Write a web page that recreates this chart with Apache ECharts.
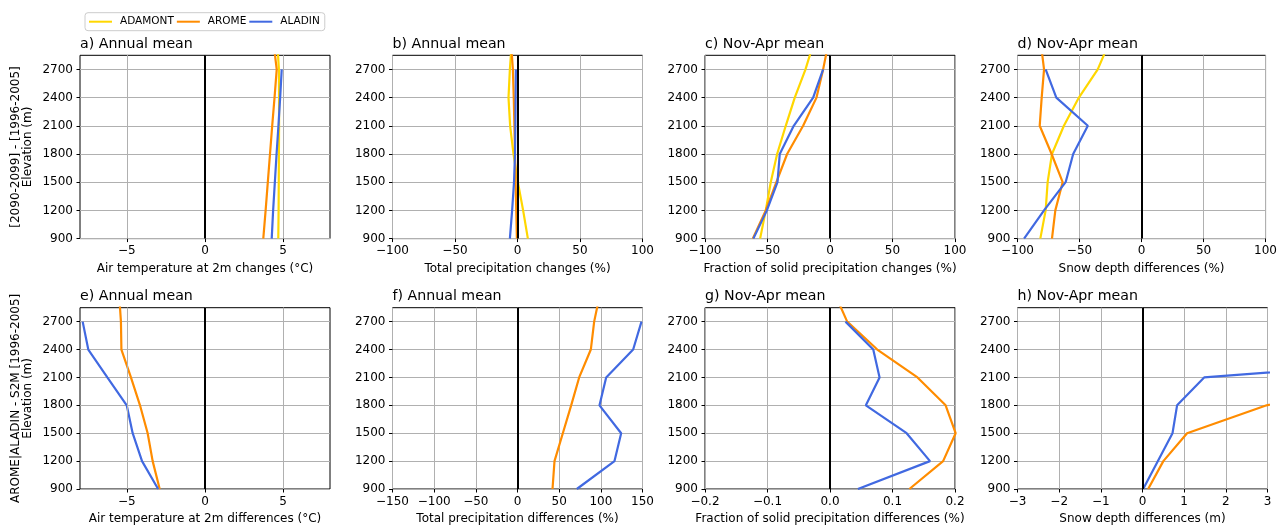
<!DOCTYPE html>
<html><head><meta charset="utf-8">
<script src="https://cdn.jsdelivr.net/npm/echarts@6/dist/echarts.min.js"></script>
<style>html,body{margin:0;padding:0;background:#fff}#c{width:1280px;height:526px}</style>
</head><body><div id="c"></div>
<script>
// ---------- DATA ----------
const elevations = [900, 1200, 1500, 1800, 2100, 2400, 2700, 3000];
const elevationTicks = [900, 1200, 1500, 1800, 2100, 2400, 2700];
const modelNames = ['ADAMONT', 'AROME', 'ALADIN'];

// a) Air temperature at 2m changes (°C)
const tasChangeAdamont = [4.69, 4.71, 4.72, 4.73, 4.74, 4.74, 4.73, 4.62];
const tasChangeArome   = [3.73, 3.88, 4.02, 4.16, 4.30, 4.45, 4.59, 4.37];
const tasChangeAladin  = [4.27, 4.36, 4.47, 4.58, 4.70, 4.81, 4.91];
// b) Total precipitation changes (%)
const prChangeAdamont = [8.3, 4.5, 0.3, -3.2, -5.9, -7.2, -6.1, -4.5];
const prChangeArome   = [-0.5, -1.0, -1.5, -2.0, -2.5, -3.0, -3.7, -5.3];
const prChangeAladin  = [-6.1, -4.3, -2.8, -2.0, -1.7, -1.5, -1.3];
// c) Fraction of solid precipitation changes (%)
const solidChangeAdamont = [-55.9, -51.4, -47.4, -42.3, -35.4, -28.2, -19.6, -12.7];
const solidChangeArome   = [-61.8, -51.4, -42.9, -34.3, -21.5, -10.8, -5.5, -1.0];
const solidChangeAladin  = [-61.3, -50.5, -42.0, -40.2, -29.0, -13.5, -5.5];
// d) Snow depth differences (%)
const snowChangeAdamont = [-81.6, -77.3, -75.7, -72.2, -62.6, -50.5, -35.3, -25.6];
const snowChangeArome   = [-72.2, -69.5, -63.6, -72.5, -82.1, -80.5, -78.6, -81.4];
const snowChangeAladin  = [-94.7, -78.6, -61.2, -55.1, -43.3, -68.7, -77.3];
// e) Air temperature at 2m differences (°C)
const tasDiffArome  = [-2.9, -3.35, -3.67, -4.16, -4.74, -5.35, -5.38, -5.5];
const tasDiffAladin = [-3.0, -4.03, -4.63, -5.01, -6.25, -7.47, -7.83];
// f) Total precipitation differences (%)
const prDiffArome  = [42, 44.4, 54.4, 64.4, 74, 88, 92, 99];
const prDiffAladin = [71.2, 116.4, 124.4, 98.4, 106.4, 138.8, 148.8];
// g) Fraction of solid precipitation differences
const solidDiffArome  = [0.127, 0.181, 0.201, 0.185, 0.140, 0.0756, 0.0275, 0.0077];
const solidDiffAladin = [0.0446, 0.160, 0.1226, 0.0574, 0.0793, 0.0692, 0.0248];
// h) Snow depth differences (m)
const snowDiffArome  = [0.136, 0.5, 1.07, 2.98, 6.0, 9.0, 12.0, 15.0];
const snowDiffAladin = [0.016, 0.37, 0.72, 0.83, 1.48, 10.2, 14.0];

const panelTitles = ['a) Annual mean', 'b) Annual mean', 'c) Nov-Apr mean', 'd) Nov-Apr mean',
                     'e) Annual mean', 'f) Annual mean', 'g) Nov-Apr mean', 'h) Nov-Apr mean'];
const xAxisNames = ['Air temperature at 2m changes (°C)', 'Total precipitation changes (%)',
  'Fraction of solid precipitation changes (%)', 'Snow depth differences (%)',
  'Air temperature at 2m differences (°C)', 'Total precipitation differences (%)',
  'Fraction of solid precipitation differences (%)', 'Snow depth differences (m)'];
const yAxisNames = ['[2090-2099] - [1996-2005]\nElevation (m)', 'AROME|ALADIN - S2M [1996-2005]\nElevation (m)'];
const xTicksTemp = [-5, 0, 5];
const xTicksPct100 = [-100, -50, 0, 50, 100];
const xTicksPct150 = [-150, -100, -50, 0, 50, 100, 150];
const xTicksFrac = [-0.2, -0.1, 0.0, 0.1, 0.2];
const xTicksMeters = [-3, -2, -1, 0, 1, 2, 3];

// ---------- LAYOUT / STYLE ----------
const FONT = 'DejaVu Sans';
const FS = 12;
const colors = { ADAMONT: '#FFD700', AROME: '#FF8C00', ALADIN: '#4169E1' };
const panels = [
  { x: [-8, 8], ticks: xTicksTemp, step: null, dec: 0, s: { ADAMONT: tasChangeAdamont, AROME: tasChangeArome, ALADIN: tasChangeAladin } },
  { x: [-100, 100], ticks: xTicksPct100, step: 50, dec: 0, s: { ADAMONT: prChangeAdamont, AROME: prChangeArome, ALADIN: prChangeAladin } },
  { x: [-100, 100], ticks: xTicksPct100, step: 50, dec: 0, s: { ADAMONT: solidChangeAdamont, AROME: solidChangeArome, ALADIN: solidChangeAladin } },
  { x: [-100, 100], ticks: xTicksPct100, step: 50, dec: 0, s: { ADAMONT: snowChangeAdamont, AROME: snowChangeArome, ALADIN: snowChangeAladin } },
  { x: [-8, 8], ticks: xTicksTemp, step: null, dec: 0, s: { AROME: tasDiffArome, ALADIN: tasDiffAladin } },
  { x: [-150, 150], ticks: xTicksPct150, step: 50, dec: 0, s: { AROME: prDiffArome, ALADIN: prDiffAladin } },
  { x: [-0.2, 0.2], ticks: xTicksFrac, step: 0.1, dec: 1, s: { AROME: solidDiffArome, ALADIN: solidDiffAladin } },
  { x: [-3, 3], ticks: xTicksMeters, step: 1, dec: 0, s: { AROME: snowDiffArome, ALADIN: snowDiffAladin } }
];
const lefts = [80, 392.5, 705, 1017.5];
const tops = [55.3, 307.7];
const W = 250, H = 183.3;
const YMIN = 900, YMAX = 2850;
const GRIDCOLOR = '#b0b0b0';
const fmt = dec => v => (dec ? Number(v).toFixed(dec) : String(Math.round(v))).replace('-', '\u2212');

const grid = [], xAxis = [], yAxis = [], series = [], title = [];
const overlays = [];
panels.forEach((p, i) => {
  const row = Math.floor(i / 4), col = i % 4;
  grid.push({ left: lefts[col], top: tops[row], width: W, height: H, show: true,
    borderColor: '#000', borderWidth: 1, backgroundColor: 'transparent', containLabel: false });
  title.push({ text: panelTitles[i], left: lefts[col], top: tops[row] - 18, padding: 0,
    textStyle: { fontFamily: FONT, fontSize: 14.2, fontWeight: 'normal', color: '#000' } });
  const xa = { type: 'value', gridIndex: i, min: p.x[0], max: p.x[1],
    name: xAxisNames[i], nameLocation: 'middle', nameGap: 24,
    nameTextStyle: { fontFamily: FONT, fontSize: FS, color: '#000' },
    axisLine: { show: false, onZero: false },
    axisTick: { show: true, inside: false, length: 3.5, customValues: p.ticks, lineStyle: { color: '#000', width: 1 } },
    axisLabel: { customValues: p.ticks, formatter: fmt(p.dec), margin: 6.5, fontFamily: FONT, fontSize: FS, color: '#000' },
    splitLine: { show: p.step !== null, lineStyle: { color: GRIDCOLOR, width: 1 } } };
  if (p.step !== null) xa.interval = p.step;
  xAxis.push(xa);
  yAxis.push({ type: 'value', gridIndex: i, min: YMIN, max: YMAX, interval: 300,
    name: col === 0 ? yAxisNames[row] : '', nameLocation: 'middle', nameRotate: 90, nameGap: 46,
    nameTextStyle: { fontFamily: FONT, fontSize: FS, color: '#000', lineHeight: 12, align: 'center' },
    axisLine: { show: false, onZero: false },
    axisTick: { show: true, inside: false, length: 3.5, customValues: elevationTicks, lineStyle: { color: '#000', width: 1 } },
    axisLabel: { customValues: elevationTicks, formatter: v => String(v), margin: 7, fontFamily: FONT, fontSize: FS, color: '#000' },
    splitLine: { show: true, lineStyle: { color: GRIDCOLOR, width: 1 } } });
  if (p.step === null) overlays.push({ p, row, col });
  const names = modelNames.filter(m => p.s[m]);
  names.forEach((m, k) => {
    const s = {
      type: 'line', name: m, xAxisIndex: i, yAxisIndex: i,
      data: p.s[m].map((v, j) => [v, elevations[j]]),
      showSymbol: false, symbol: 'none', clip: true, color: colors[m],
      lineStyle: { color: colors[m], width: 2.2 }, emphasis: { disabled: true }, z: 6 + k
    };
    if (k === names.length - 1) {
      // vertical reference lines: grey grid lines at the labelled ticks (only where the
      // axis split lines cannot be used), then the black zero line on top
      const mlData = [];
      if (p.step === null) {
        p.ticks.filter(t => t !== 0).forEach(t =>
          mlData.push({ xAxis: t, lineStyle: { color: GRIDCOLOR, width: 1, type: 'solid' } }));
      }
      mlData.push({ xAxis: 0, lineStyle: { color: '#000', width: 2, type: 'solid' } });
      s.markLine = { silent: true, z: 10, symbol: ['none', 'none'], label: { show: false }, animation: false,
        lineStyle: { color: '#000', width: 2, type: 'solid' }, emphasis: { disabled: true },
        data: mlData };
    }
    series.push(s);
  });
});

// Also: axis-only overlay spanning the first..last labelled tick of the ±8 panels,
// whose split lines (counted from its min) fall on those ticks.
overlays.forEach(({ p, row, col }) => {
  const t0 = p.ticks[0], t1 = p.ticks[p.ticks.length - 1];
  const span = p.x[1] - p.x[0];
  const gi = grid.length;
  grid.push({ left: lefts[col] + W * (t0 - p.x[0]) / span, top: tops[row],
    width: W * (t1 - t0) / span, height: H, show: false, containLabel: false });
  xAxis.push({ type: 'value', gridIndex: gi, min: t0, max: t1, interval: p.ticks[1] - p.ticks[0],
    axisLine: { show: false }, axisTick: { show: false }, axisLabel: { show: false },
    splitLine: { show: true, lineStyle: { color: GRIDCOLOR, width: 1 } } });
  yAxis.push({ type: 'value', gridIndex: gi, min: YMIN, max: YMAX,
    axisLine: { show: false }, axisTick: { show: false }, axisLabel: { show: false },
    splitLine: { show: false } });
});

const chart = echarts.init(document.getElementById('c'), null, { renderer: 'canvas' });
chart.setOption({
  animation: false,
  backgroundColor: '#fff',
  title, grid, xAxis, yAxis, series,
  legend: { data: modelNames, left: 85, top: 12.7, orient: 'horizontal', icon: 'rect',
    itemWidth: 23, itemHeight: 2, itemGap: 3, padding: [3.5, 5, 3.5, 4],
    borderColor: '#ccc', borderWidth: 1, borderRadius: 3,
    textStyle: { fontFamily: FONT, fontSize: 10.5, color: '#000', padding: [0, 0, 0, 3] } }
});
</script></body></html>
